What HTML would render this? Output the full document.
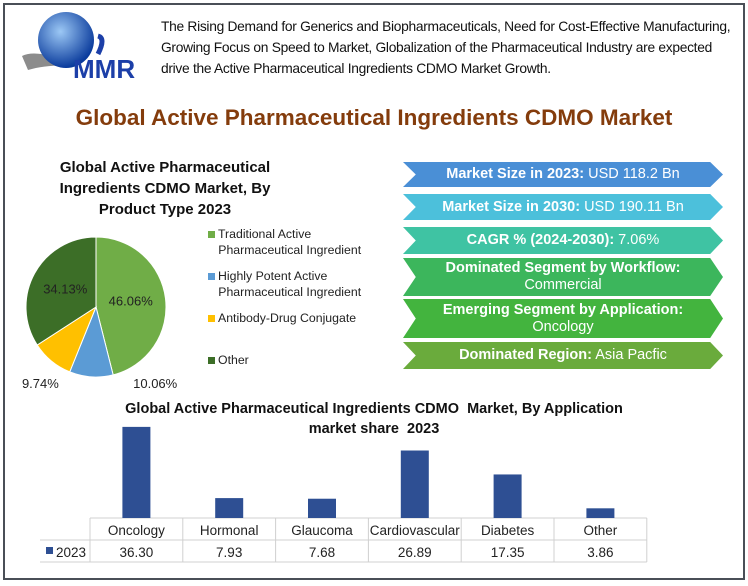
<!DOCTYPE html>
<html><head><meta charset="utf-8"><style>
body{margin:0;width:748px;height:586px;background:#fff;font-family:"Liberation Sans",sans-serif;position:relative;overflow:hidden}
.abs{position:absolute}
.frame{left:3px;top:3px;width:738px;height:573px;border:2px solid #4a4f57}
.hdr{left:161px;top:16px;width:580px;font-size:13.8px;letter-spacing:-0.3px;line-height:21px;color:#111;white-space:nowrap}
.title{left:0;width:748px;top:105px;text-align:center;font-size:22.5px;font-weight:bold;color:#843c0c}
.ban{left:403px;width:320px;color:#fff;font-size:14.5px;text-align:center;display:flex;align-items:center;justify-content:center;line-height:17px;clip-path:polygon(0 0,96% 0,100% 50%,96% 100%,0 100%,4% 50%)}
.ban b{font-weight:bold}
.leg{left:208px;font-size:12.3px;line-height:16px;color:#222;white-space:nowrap}
.sw{display:inline-block;width:7px;height:7px;margin-right:3px}
</style></head><body>
<div class="abs frame"></div>
<svg class="abs" style="left:18px;top:8px" width="130" height="75">
<defs><radialGradient id="g" cx="40%" cy="35%" r="65%"><stop offset="0" stop-color="#9cc8f5"/><stop offset="1" stop-color="#0a3b9c"/></radialGradient></defs>
<path d="M4 48 Q20 40 60 58 Q30 56 10 62 Z" fill="#8c8c8c"/>
<circle cx="48" cy="32" r="28" fill="url(#g)"/>
<path d="M80 28 q8 2 0 18" stroke="#1c3fa8" stroke-width="5" fill="none"/>
<text x="55" y="70" font-family="Liberation Sans" font-size="26" fill="#1c3fa8" font-weight="bold">MMR</text>
</svg>
<div class="abs hdr">The Rising Demand for Generics and Biopharmaceuticals, Need for Cost-Effective Manufacturing,<br>Growing Focus on Speed to Market, Globalization of the Pharmaceutical Industry are expected<br>drive the Active Pharmaceutical Ingredients CDMO Market Growth.</div>
<div class="abs title">Global Active Pharmaceutical Ingredients CDMO Market</div>
<div class="abs" style="left:30px;top:157px;width:270px;text-align:center;font-weight:bold;font-size:15px;line-height:21px;color:#111">Global Active Pharmaceutical Ingredients CDMO Market, By Product Type 2023</div>
<svg class="abs" style="left:0;top:0" width="380" height="400" id="pie"></svg>
<div class="abs leg" style="top:226px"><span class="sw" style="background:#70ad47"></span>Traditional Active<br>&nbsp;&nbsp;&nbsp;Pharmaceutical Ingredient</div>
<div class="abs leg" style="top:268px"><span class="sw" style="background:#5b9bd5"></span>Highly Potent Active<br>&nbsp;&nbsp;&nbsp;Pharmaceutical Ingredient</div>
<div class="abs leg" style="top:310px"><span class="sw" style="background:#ffc000"></span>Antibody-Drug Conjugate</div>
<div class="abs leg" style="top:352px"><span class="sw" style="background:#3c6e27"></span>Other</div>
<div class="abs ban" style="top:162px;height:25px;background:#4a8fd6"><span><b>Market Size in 2023:</b> USD 118.2 Bn</span></div>
<div class="abs ban" style="top:194px;height:26px;background:#4cc0db"><span><b>Market Size in 2030:</b> USD 190.11 Bn</span></div>
<div class="abs ban" style="top:227px;height:27px;background:#3fc3a3"><span><b>CAGR % (2024-2030):</b> 7.06%</span></div>
<div class="abs ban" style="top:258px;height:38px;background:#3cb65c"><span><b>Dominated Segment by Workflow:</b><br>Commercial</span></div>
<div class="abs ban" style="top:299px;height:39px;background:#43b43e"><span><b>Emerging Segment by Application:</b><br>Oncology</span></div>
<div class="abs ban" style="top:342px;height:27px;background:#6aab3c"><span><b>Dominated Region:</b> Asia Pacfic</span></div>
<div class="abs" style="left:0;width:748px;top:399px;text-align:center;font-weight:bold;font-size:14.5px;line-height:20px;color:#111">Global Active Pharmaceutical Ingredients CDMO &nbsp;Market, By Application<br>market share &nbsp;2023</div>
<svg class="abs" style="left:0;top:0" width="748" height="586" id="bar"></svg>
<script>
const pieLabels=["Traditional Active Pharmaceutical Ingredient","Highly Potent Active Pharmaceutical Ingredient","Antibody-Drug Conjugate","Other"];
const pieValues=[46.06,10.06,9.74,34.13];
const pieColors=["#70ad47","#5b9bd5","#ffc000","#3c6e27"];
const cats=["Oncology","Hormonal","Glaucoma","Cardiovascular","Diabetes","Other"];
const vals=[36.30,7.93,7.68,26.89,17.35,3.86];
const NS="http://www.w3.org/2000/svg";
function mk(p,t,a){const e=document.createElementNS(NS,t);for(const k in a)e.setAttribute(k,a[k]);p.appendChild(e);return e;}
const pie=document.getElementById('pie');
const cx=96,cy=307,r=70,tot=pieValues.reduce((a,b)=>a+b,0);
const lblShift=[0,64,-11,0];
let ang=-Math.PI/2;
pieValues.forEach((v,i)=>{
 const a2=ang+v/tot*2*Math.PI;
 const x1=cx+r*Math.cos(ang),y1=cy+r*Math.sin(ang),x2=cx+r*Math.cos(a2),y2=cy+r*Math.sin(a2);
 const p=mk(pie,'path',{d:`M${cx} ${cy}L${x1} ${y1}A${r} ${r} 0 ${a2-ang>Math.PI?1:0} 1 ${x2} ${y2}Z`,fill:pieColors[i],stroke:'#fff','stroke-width':1});
 
 
 const m=(ang+a2)/2;const inside=v>20;
 const lx=inside?cx+r*0.5*Math.cos(m):cx+r*Math.cos(m)+lblShift[i];
 const ly=inside?cy+r*0.5*Math.sin(m)+3:cy+r+11;
 const t=mk(pie,'text',{x:lx,y:ly,'text-anchor':'middle','font-size':13,fill:'#222','font-family':'Liberation Sans'});
 t.textContent=v.toFixed(2)+'%';
 
 
 ang=a2;
});
const bar=document.getElementById('bar');
const x0=90,cw=92.8,base=518,k=2.51;
const g=mk(bar,'g',{stroke:'#d0d0d0','stroke-width':1});
mk(g,'line',{x1:x0,y1:base,x2:x0+cw*6,y2:base});
mk(g,'line',{x1:40,y1:540,x2:x0+cw*6,y2:540});
mk(g,'line',{x1:40,y1:562,x2:x0+cw*6,y2:562});
for(let i=0;i<=6;i++)mk(g,'line',{x1:x0+i*cw,y1:base,x2:x0+i*cw,y2:562});
cats.forEach((c,i)=>{
 const xc=x0+cw*(i+0.5),h=vals[i]*k;
 const b=mk(bar,'rect',{x:xc-14,y:base-h,width:28,height:h,fill:'#2e4f93'});
 
 
 const t=mk(bar,'text',{x:xc,y:535,'text-anchor':'middle','font-size':13.5,fill:'#222','font-family':'Liberation Sans'});t.textContent=c;
 
 
 const v=mk(bar,'text',{x:xc,y:557,'text-anchor':'middle','font-size':13.5,fill:'#222','font-family':'Liberation Sans'});v.textContent=vals[i].toFixed(2);
 
 
});
mk(bar,'rect',{x:46,y:547,width:7,height:7,fill:'#2e4f93'});
const lt=mk(bar,'text',{x:56,y:557,'font-size':13.5,fill:'#222','font-family':'Liberation Sans'});lt.textContent='2023';


</script>
</body></html>
